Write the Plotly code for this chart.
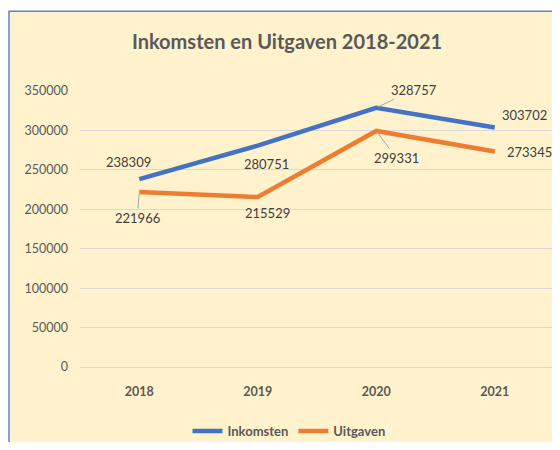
import plotly.graph_objects as go

years = ["2018", "2019", "2020", "2021"]
inkomsten = [238309, 280751, 328757, 303702]
uitgaven = [221966, 215529, 299331, 273345]
y_ticks = [0, 50000, 100000, 150000, 200000, 250000, 300000, 350000]

# label offsets in pixels (dx, dy; dy down positive) and whether a leader line is drawn
ink_offsets = [(-11, -17, False), (9, 18, False), (38, -18, True), (30, -13, False)]
uit_offsets = [(-2, 26, True), (10, 16, False), (20, 27, True), (35, 1, False)]

BLUE = "#4472C4"
ORANGE = "#ED7D31"
FONT = "Lato"

OFF = 8  # page body margin
W, H = 552, 434
L, R, T = 72, 6, 83
B = H - (367.5 - OFF)
pw = W - L - R
ph = H - T - B

def px2paper(px, py):
    # px, py in reference image pixels
    return (px - OFF - L) / pw, (H - B - (py - OFF)) / ph

fig = go.Figure()
fig.add_trace(go.Scatter(x=years, y=inkomsten, mode="lines", name="Inkomsten",
                         line=dict(color=BLUE, width=4.5)))
fig.add_trace(go.Scatter(x=years, y=uitgaven, mode="lines", name="Uitgaven",
                         line=dict(color=ORANGE, width=4.5)))

annotations = []
for series, offsets in ((inkomsten, ink_offsets), (uitgaven, uit_offsets)):
    for i, (v, (dx, dy, arrow)) in enumerate(zip(series, offsets)):
        a = dict(x=i, y=v, xref="x", yref="y", text=str(v),
                 xanchor="center", yanchor="middle",
                 font=dict(family=FONT, size=13, color="#404040"))
        if arrow:
            a.update(showarrow=True, ax=dx, ay=dy, arrowhead=0, arrowwidth=1,
                     arrowcolor="#A6A6A6", standoff=2)
        else:
            a.update(showarrow=False, xshift=dx, yshift=-dy)
        annotations.append(a)

x0, y0 = px2paper(9, 11)
x1, y1 = px2paper(575, 465)

fig.update_layout(
    width=W, height=H,
    margin=dict(l=L, r=R, t=T, b=B),
    paper_bgcolor="white",
    plot_bgcolor="rgba(0,0,0,0)",
    title=dict(text="<b>Inkomsten en Uitgaven 2018-2021</b>",
               x=(287 - OFF) / W, xref="container", xanchor="center",
               y=1 - (42 - OFF) / H, yref="container", yanchor="middle",
               font=dict(family=FONT, size=20, color="#595959")),
    xaxis=dict(type="category", range=[-0.5, 3.5], showgrid=False,
               showline=False, zeroline=False, ticks="",
               ticklabelstandoff=15,
               tickfont=dict(family=FONT, size=12.5, color="#595959", weight="bold")),
    yaxis=dict(range=[0, 350000], tickvals=y_ticks, ticktext=[str(t) for t in y_ticks],
               showgrid=True, gridcolor="#D9D9D9", gridwidth=1.2,
               zeroline=True, zerolinecolor="#D9D9D9", zerolinewidth=1.2,
               showline=False, ticks="", ticklabelstandoff=11,
               tickfont=dict(family=FONT, size=12.5, color="#595959")),
    legend=dict(orientation="h",
                xref="container", x=(289 - OFF) / W, xanchor="center",
                yref="container", y=1 - (431 - OFF) / H, yanchor="middle",
                bgcolor="rgba(0,0,0,0)", borderwidth=0,
                font=dict(family=FONT, size=13, color="#595959", weight="bold")),
    annotations=annotations,
    shapes=[dict(type="rect", xref="paper", yref="paper",
                 x0=x0, y0=y0, x1=x1, y1=y1,
                 fillcolor="#FFF2CC", line=dict(color="#5B86CF", width=1.5),
                 layer="below")],
)

fig.write_html("out.html")
